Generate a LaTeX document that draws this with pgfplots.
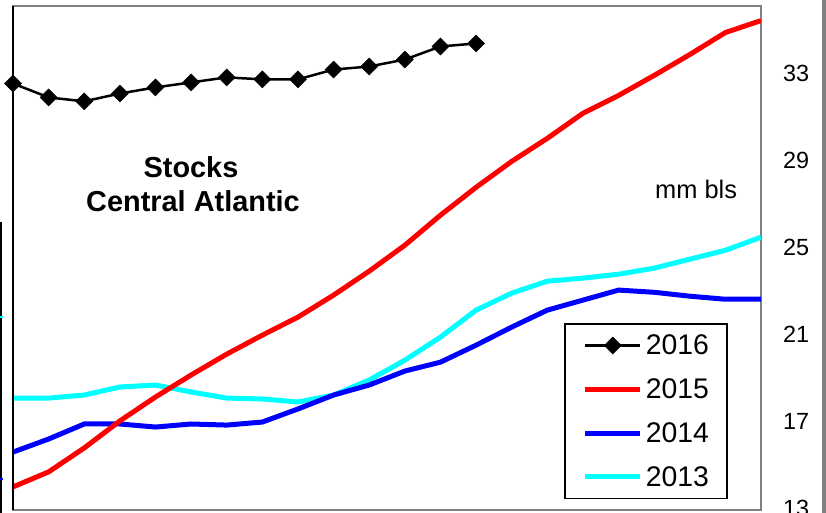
\documentclass[border=0pt]{standalone}
\usepackage{fontspec}
\setmainfont{Liberation Sans}
\usepackage{pgfplots}
\pgfplotsset{compat=1.18}
\definecolor{frame}{RGB}{128,128,128}
\definecolor{cyanline}{RGB}{0,255,255}
\definecolor{blueline}{RGB}{0,0,255}
\definecolor{redline}{RGB}{255,0,0}
\begin{document}
\begin{tikzpicture}[x=1bp,y=1bp]
\useasboundingbox (0,0) rectangle (826,513);
\fill[white] (0,0) rectangle (826,513);
\begin{axis}[
  at={(13bp,3bp)}, anchor=south west,
  scale only axis, width=748bp, height=504bp,
  xmin=0, xmax=21, ymin=12.95, ymax=36.1,
  xtick=\empty,
  ytick={13,17,21,25,29,33},
  yticklabel pos=right,
  ytick style={draw=none},
  major tick length=0pt,
  yticklabel style={anchor=west, inner sep=0pt, xshift=22bp, font=\fontsize{23.5}{23.5}\selectfont},
  /pgf/number format/assume math mode=true,
  axis line style={draw=frame, line width=1.2bp},
  clip mode=individual,
  reverse legend,
  legend style={at={(0.7366,0.371)}, anchor=north west, draw=black, line width=1.6bp, fill=white,
    font=\fontsize{28.5}{28.5}\selectfont, inner xsep=18bp, inner ysep=11bp,
    row sep=22.5bp, column sep=3bp, nodes={inner sep=0pt}},
  legend cell align=left,
  legend image code/.code={\draw[mark repeat=2,mark phase=2,#1] plot coordinates {(0bp,0bp)(27.5bp,0bp)(55bp,0bp)};},
]
\addplot[cyanline, line width=5bp, mark=none] coordinates {
(0,18.09)(1,18.09)(2,18.23)(3,18.60)(4,18.69)(5,18.37)(6,18.09)(7,18.05)(8,17.91)(9,18.23)(10,18.92)
(11,19.83)(12,20.89)(13,22.13)(14,22.91)(15,23.46)(16,23.60)(17,23.78)(18,24.06)(19,24.47)(20,24.88)(21,25.48)};
\addlegendentry{2013}
\addplot[blueline, line width=5bp, mark=none] coordinates {
(0,15.61)(1,16.21)(2,16.90)(3,16.90)(4,16.76)(5,16.90)(6,16.85)(7,16.99)(8,17.59)(9,18.23)(10,18.69)
(11,19.33)(12,19.74)(13,20.52)(14,21.35)(15,22.13)(16,22.59)(17,23.05)(18,22.95)(19,22.77)(20,22.63)(21,22.63)};
\addlegendentry{2014}
\addplot[redline, line width=5bp, mark=none] coordinates {
(0,14.01)(1,14.70)(2,15.80)(3,17.04)(4,18.14)(5,19.15)(6,20.11)(7,20.98)(8,21.81)(9,22.82)(10,23.92)
(11,25.11)(12,26.49)(13,27.77)(14,28.96)(15,30.02)(16,31.17)(17,31.99)(18,32.91)(19,33.87)(20,34.88)(21,35.43)};
\addlegendentry{2015}
\addplot[black, line width=2.5bp, mark=square*, mark options={rotate=45, solid, fill=black, draw=black, line width=0.5bp}, mark size=6bp] coordinates {
(0,32.54)(1,31.90)(2,31.72)(3,32.08)(4,32.36)(5,32.59)(6,32.82)(7,32.73)(8,32.73)(9,33.18)(10,33.32)
(11,33.64)(12,34.24)(13,34.38)};
\addlegendentry{2016}
\end{axis}
\draw[black, line width=1.2bp] (13,3) -- (13,507);
\draw[black, line width=2bp] (1,0) -- (1,291);
\draw[cyanline, line width=2bp] (0,196) -- (2.5,196);
\draw[blueline, line width=2bp] (0,34) -- (2.5,34);
\fill[frame] (822,0) rectangle (826,513);
\node[anchor=base, font=\fontsize{29}{29}\selectfont\bfseries, inner sep=0pt] at (191,335) {Stocks};
\node[anchor=base, font=\fontsize{29}{29}\selectfont\bfseries, inner sep=0pt] at (193,301) {Central Atlantic};
\node[anchor=base west, font=\fontsize{25.5}{25.5}\selectfont, inner sep=0pt] at (655,314) {mm bls};
\end{tikzpicture}
\end{document}
